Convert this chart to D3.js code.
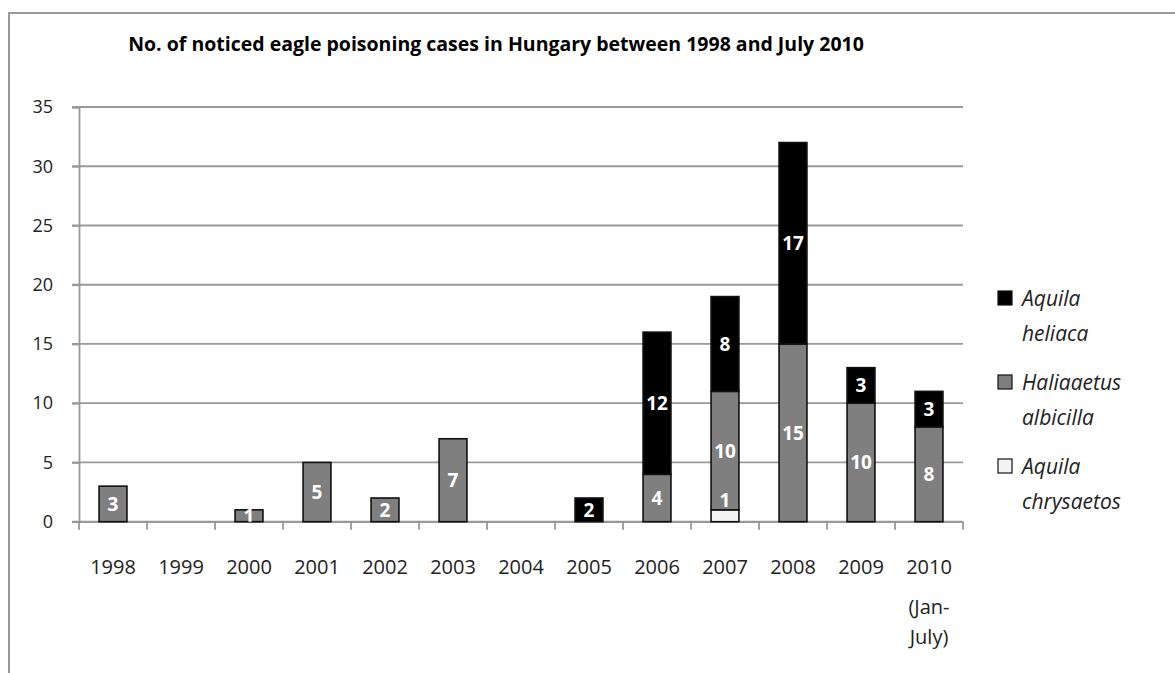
<!DOCTYPE html>
<html>
<head>
<meta charset="utf-8">
<script src="https://cdn.jsdelivr.net/npm/d3@7"></script>
<style>
  body { margin: 0; background: #fff; }
  text { font-family: "Open Sans", "Liberation Sans", sans-serif; fill: #000; }
</style>
</head>
<body>
<svg id="chart" width="1175" height="673"></svg>
<script>
// data
var years = ["1998", "1999", "2000", "2001", "2002", "2003", "2004", "2005", "2006", "2007", "2008", "2009", "2010"];
var yearNotes = ["", "", "", "", "", "", "", "", "", "", "", "", "(Jan-|July)"];
var chrysaetos = [0, 0, 0, 0, 0, 0, 0, 0, 0, 1, 0, 0, 0];
var albicilla = [3, 0, 1, 5, 2, 7, 0, 0, 4, 10, 15, 10, 8];
var heliaca = [0, 0, 0, 0, 0, 0, 0, 2, 12, 8, 17, 3, 3];
var yTicks = [0, 5, 10, 15, 20, 25, 30, 35];

var seriesKeys = ["chrysaetos", "albicilla", "heliaca"];
var seriesNames = {
  heliaca: ["Aquila", "heliaca"],
  albicilla: ["Haliaaetus", "albicilla"],
  chrysaetos: ["Aquila", "chrysaetos"]
};
var seriesColors = { chrysaetos: "#f4f4f4", albicilla: "#7f7f7f", heliaca: "#000000" };

var rows = years.map(function(y, i) {
  return { year: y, chrysaetos: chrysaetos[i], albicilla: albicilla[i], heliaca: heliaca[i] };
});

var svg = d3.select("#chart");
var margin = { left: 79, top: 107, right: 963, bottom: 521.7 };

// outer frame (only top and left edges show)
svg.append("path")
  .attr("d", "M9,673V13H1175")
  .attr("fill", "none")
  .attr("stroke", "#9a9a9a")
  .attr("stroke-width", 2);

svg.append("text")
  .attr("x", 496)
  .attr("y", 51)
  .attr("text-anchor", "middle")
  .style("font-size", "19.5px")
  .style("font-weight", "bold")
  .text("No. of noticed eagle poisoning cases in Hungary between 1998 and July 2010");

var x = d3.scaleBand().domain(years).range([margin.left, margin.right]).paddingInner(0.59).paddingOuter(0.295);
var y = d3.scaleLinear().domain([0, 35]).range([margin.bottom, margin.top]);

// gridlines
svg.append("g")
  .selectAll("line")
  .data(yTicks)
  .join("line")
  .attr("x1", margin.left - 7)
  .attr("x2", margin.right)
  .attr("y1", function(d) { return y(d); })
  .attr("y2", function(d) { return y(d); })
  .attr("stroke", "#999")
  .attr("stroke-width", 1.8);

// y axis
var yAxis = svg.append("g")
  .attr("transform", "translate(" + margin.left + ",0)")
  .call(d3.axisLeft(y).tickValues(yTicks).tickSize(7).tickPadding(19));
yAxis.select(".domain").attr("stroke", "#999").attr("stroke-width", 1.8);
yAxis.selectAll(".tick line").attr("stroke", "#999").attr("stroke-width", 1.8);
yAxis.selectAll(".tick text").style("font-size", "18px").style("fill", "#222").attr("font-family", null);

// x axis with ticks between categories
var step = x.step();
var xAxis = svg.append("g")
  .attr("transform", "translate(0," + margin.bottom + ")")
  .call(d3.axisBottom(x).tickSize(0).tickPadding(38));
xAxis.select(".domain").attr("stroke", "#999").attr("stroke-width", 1.8);
xAxis.selectAll(".tick text").style("font-size", "20px").style("fill", "#222").attr("font-family", null);
xAxis.selectAll(".tick text").each(function(d, i) {
  if (!yearNotes[i]) return;
  var t = d3.select(this);
  yearNotes[i].split("|").forEach(function(part, k) {
    t.append("tspan").attr("x", 0).attr("dy", k === 0 ? "2em" : "1.5em").text(part);
  });
});
svg.append("g")
  .selectAll("line")
  .data(d3.range(years.length + 1))
  .join("line")
  .attr("x1", function(i) { return margin.left + i * step; })
  .attr("x2", function(i) { return margin.left + i * step; })
  .attr("y1", margin.bottom)
  .attr("y2", margin.bottom + 8)
  .attr("stroke", "#999")
  .attr("stroke-width", 1.8);

// stacked bars
var stacked = d3.stack().keys(seriesKeys)(rows);

svg.append("clipPath")
  .attr("id", "plot-clip")
  .append("rect")
  .attr("x", margin.left)
  .attr("y", margin.top - 20)
  .attr("width", margin.right - margin.left)
  .attr("height", margin.bottom - margin.top + 20);

var layers = svg.append("g")
  .selectAll("g")
  .data(stacked)
  .join("g")
  .attr("fill", function(d) { return seriesColors[d.key]; });

layers.selectAll("rect")
  .data(function(d) { return d.filter(function(p) { return p[1] > p[0]; }); })
  .join("rect")
  .attr("x", function(d) { return x(d.data.year); })
  .attr("width", x.bandwidth())
  .attr("y", function(d) { return y(d[1]); })
  .attr("height", function(d) { return y(d[0]) - y(d[1]); })
  .attr("stroke", "#111")
  .attr("stroke-width", 1.6);

// value labels
var labels = svg.append("g").attr("clip-path", "url(#plot-clip)");
stacked.forEach(function(layer) {
  layer.forEach(function(p) {
    var v = p[1] - p[0];
    if (v <= 0) return;
    var cy = (y(p[0]) + y(p[1])) / 2 + 7;
    // the white segment is too thin, its label sits above it
    if (layer.key === "chrysaetos") cy = y(p[1]) - 3;
    labels.append("text")
      .attr("x", x(p.data.year) + x.bandwidth() / 2)
      .attr("y", cy)
      .attr("text-anchor", "middle")
      .style("font-size", "19px")
      .style("font-weight", "bold")
      .style("fill", "#fff")
      .text(v);
  });
});

// legend, top entry is the top of the stack
var legendKeys = seriesKeys.slice().reverse();
var legend = svg.append("g")
  .selectAll("g")
  .data(legendKeys)
  .join("g")
  .attr("transform", function(d, i) { return "translate(998," + (291 + i * 84) + ")"; });

legend.append("rect")
  .attr("width", 14)
  .attr("height", 14)
  .attr("fill", function(d) { return seriesColors[d]; })
  .attr("stroke", "#111")
  .attr("stroke-width", 1.2);

legend.append("text")
  .attr("x", 24)
  .attr("y", 15)
  .style("font-size", "21px")
  .style("font-style", "italic")
  .style("fill", "#222")
  .each(function(d) {
    var t = d3.select(this);
    seriesNames[d].forEach(function(part, k) {
      t.append("tspan").attr("x", 24).attr("dy", k === 0 ? 0 : 35).text(part);
    });
  });
</script>
</body>
</html>
